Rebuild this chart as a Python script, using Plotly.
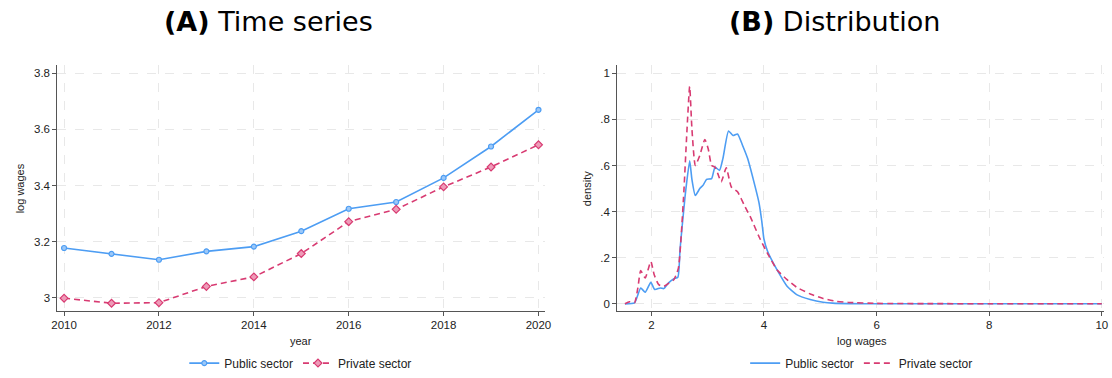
import plotly.graph_objects as go

# ---- Panel A: mean log wages by year ----
years = [2010, 2011, 2012, 2013, 2014, 2015, 2016, 2017, 2018, 2019, 2020]
public_mean = [3.177, 3.156, 3.135, 3.165, 3.182, 3.237, 3.317, 3.341, 3.427, 3.539, 3.670]
private_mean = [2.998, 2.980, 2.982, 3.040, 3.074, 3.157, 3.271, 3.315, 3.395, 3.466, 3.545]

# ---- Panel B: kernel density of log wages ----
public_x = [1.53, 1.70, 1.81, 1.89, 1.99, 2.06, 2.16, 2.22, 2.30, 2.40, 2.47, 2.51, 2.60,
            2.68, 2.72, 2.78, 2.86, 2.92, 2.98, 3.07, 3.13, 3.21, 3.27, 3.37, 3.45, 3.53,
            3.62, 3.71, 3.82, 3.91, 3.96, 4.00, 4.06, 4.12, 4.23, 4.41, 4.58, 4.82, 5.05,
            5.22, 5.5, 6.0, 7.0, 8.0, 9.0, 10.0]
public_d = [0.000, 0.004, 0.069, 0.050, 0.093, 0.062, 0.069, 0.066, 0.090, 0.109, 0.115,
            0.240, 0.470, 0.620, 0.540, 0.470, 0.500, 0.515, 0.540, 0.543, 0.593, 0.579,
            0.630, 0.750, 0.730, 0.737, 0.687, 0.630, 0.530, 0.440, 0.360, 0.280, 0.230,
            0.198, 0.148, 0.076, 0.040, 0.019, 0.007, 0.003, 0.001, 0.0005, 0.0003, 0.0002,
            0.0002, 0.0002]
private_x = [1.53, 1.61, 1.70, 1.76, 1.81, 1.89, 1.99, 2.05, 2.13, 2.22, 2.31, 2.40, 2.48,
             2.57, 2.63, 2.68, 2.72, 2.78, 2.86, 2.95, 3.01, 3.07, 3.13, 3.18, 3.24, 3.33,
             3.42, 3.53, 3.65, 3.77, 3.91, 4.06, 4.23, 4.41, 4.58, 4.82, 5.05, 5.28, 5.5,
             6.0, 7.0, 8.0, 9.0, 10.0]
private_d = [0.000, 0.009, 0.004, 0.070, 0.144, 0.112, 0.184, 0.126, 0.083, 0.076, 0.090,
             0.105, 0.155, 0.457, 0.744, 0.943, 0.759, 0.600, 0.644, 0.713, 0.672, 0.600,
             0.593, 0.565, 0.529, 0.590, 0.507, 0.486, 0.428, 0.371, 0.292, 0.220, 0.148,
             0.105, 0.072, 0.043, 0.023, 0.011, 0.006, 0.002, 0.0008, 0.0005, 0.0004, 0.0004]

left_ticks = [3.0, 3.2, 3.4, 3.6, 3.8]
left_ticktext = ["3", "3.2", "3.4", "3.6", "3.8"]
right_ticks = [0, 0.2, 0.4, 0.6, 0.8, 1.0]
right_ticktext = ["0", ".2", ".4", ".6", ".8", "1"]

BLUE = "#4d9df3"
RED = "#d83b72"
BLUE_FILL = "#9cc8f8"
RED_FILL = "#ee9bb8"

W, H = 1112, 378


def px_x(v):
    return v / W


def px_y(v):
    return 1 - v / H


fig = go.Figure()

fig.add_trace(go.Scatter(
    x=years, y=public_mean, mode="lines+markers", name="Public sector",
    line=dict(color=BLUE, width=1.6),
    marker=dict(symbol="circle", size=5, color=BLUE_FILL, line=dict(color=BLUE, width=1.2)),
    xaxis="x", yaxis="y", legend="legend"))
fig.add_trace(go.Scatter(
    x=years, y=private_mean, mode="lines+markers", name="Private sector",
    line=dict(color=RED, width=1.6, dash="6px,4px"),
    marker=dict(symbol="diamond", size=6, color=RED_FILL, line=dict(color=RED, width=1.2)),
    xaxis="x", yaxis="y", legend="legend"))

fig.add_trace(go.Scatter(
    x=public_x, y=public_d, mode="lines", name="Public sector",
    line=dict(color=BLUE, width=1.6, shape="spline", smoothing=0.5),
    xaxis="x2", yaxis="y2", legend="legend2"))
fig.add_trace(go.Scatter(
    x=private_x, y=private_d, mode="lines", name="Private sector",
    line=dict(color=RED, width=1.6, dash="6px,4px", shape="spline", smoothing=0.5),
    xaxis="x2", yaxis="y2", legend="legend2"))

axis_common = dict(
    showline=True, linecolor="#555555", linewidth=1.2,
    ticks="outside", ticklen=4, tickcolor="#555555", tickwidth=1,
    showgrid=True, gridcolor="#e8e8e8", griddash="dash", gridwidth=1,
    zeroline=False, tickfont=dict(family="Liberation Sans, Arial", size=11.5, color="#222222"),
)

ydom = [px_y(313), px_y(66)]

fig.update_layout(
    width=W, height=H,
    margin=dict(l=0, r=0, t=0, b=0),
    paper_bgcolor="white", plot_bgcolor="white",
    xaxis=dict(domain=[px_x(52), px_x(545)], range=[2009.86, 2020.14],
               tickvals=[2010, 2012, 2014, 2016, 2018, 2020], anchor="y", **axis_common),
    yaxis=dict(domain=ydom, range=[2.954, 3.828], tickvals=left_ticks,
               ticktext=left_ticktext, anchor="x", **axis_common),
    xaxis2=dict(domain=[px_x(618), px_x(1110)], range=[1.395, 10.04],
                tickvals=[2, 4, 6, 8, 10], anchor="y2", **axis_common),
    yaxis2=dict(domain=ydom, range=[-0.029, 1.034], tickvals=right_ticks,
                ticktext=right_ticktext, anchor="x2", **axis_common),
    legend=dict(orientation="h", x=px_x(298), xanchor="center", y=px_y(366), yanchor="middle",
                font=dict(family="Liberation Sans, Arial", size=12, color="#222222"),
                bgcolor="rgba(0,0,0,0)", itemwidth=30, tracegroupgap=0),
    legend2=dict(orientation="h", x=px_x(865), xanchor="center", y=px_y(366), yanchor="middle",
                 font=dict(family="Liberation Sans, Arial", size=12, color="#222222"),
                 bgcolor="rgba(0,0,0,0)", itemwidth=30, tracegroupgap=0),
    showlegend=True,
)

label_font = dict(family="Liberation Sans, Arial", size=11, color="#222222")
title_font = dict(family="DejaVu Sans, Verdana", size=27, color="#000000")

fig.add_annotation(text="<b>(A)</b> Time series", x=px_x(265), y=px_y(22), xref="paper", yref="paper",
                   xanchor="center", yanchor="middle", showarrow=False, font=title_font)
fig.add_annotation(text="<b>(B)</b> Distribution", x=px_x(838), y=px_y(22), xref="paper", yref="paper",
                   xanchor="center", yanchor="middle", showarrow=False, font=title_font)

fig.add_annotation(text="year", x=px_x(298), y=px_y(344), xref="paper", yref="paper",
                   xanchor="center", yanchor="middle", showarrow=False, font=label_font)
fig.add_annotation(text="log wages", x=px_x(865), y=px_y(344), xref="paper", yref="paper",
                   xanchor="center", yanchor="middle", showarrow=False, font=label_font)
fig.add_annotation(text="log wages", x=px_x(15), y=px_y(190), xref="paper", yref="paper",
                   xanchor="center", yanchor="middle", showarrow=False, textangle=-90, font=label_font)
fig.add_annotation(text="density", x=px_x(588), y=px_y(190), xref="paper", yref="paper",
                   xanchor="center", yanchor="middle", showarrow=False, textangle=-90, font=label_font)

fig.write_html("out.html")
